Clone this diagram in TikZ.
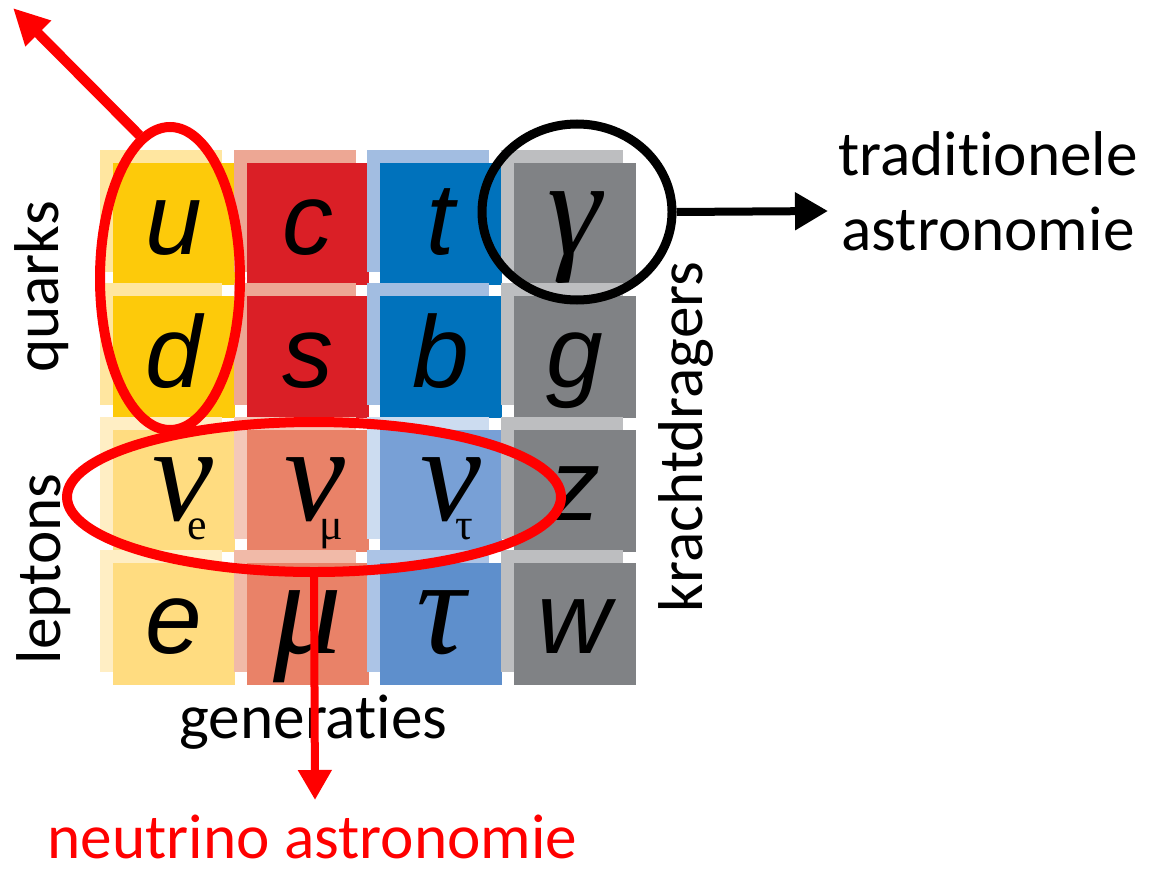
\documentclass[tikz,border=0pt]{standalone}
\usepackage{fontspec}
\setmainfont{Carlito}[Ligatures=NoCommon]
\newfontfamily\cellsans{Liberation Sans}
\newfontfamily\cellserif{Liberation Serif}
\usetikzlibrary{arrows.meta,shapes.geometric}

\definecolor{qyel}{RGB}{253,202,10}
\definecolor{qyelb}{RGB}{255,230,160}
\definecolor{qred}{RGB}{218,31,38}
\definecolor{qredb}{RGB}{237,167,148}
\definecolor{qblue}{RGB}{0,114,188}
\definecolor{qblueb}{RGB}{162,189,225}
\definecolor{fgray}{RGB}{128,130,133}
\definecolor{fgrayb}{RGB}{189,190,192}
\definecolor{lyel}{RGB}{255,220,128}
\definecolor{lyelb}{RGB}{255,238,196}
\definecolor{lred}{RGB}{233,130,104}
\definecolor{lredb}{RGB}{244,200,185}
\definecolor{lredc}{RGB}{241,186,168}
\definecolor{lblue}{RGB}{120,160,214}
\definecolor{lblueb}{RGB}{204,220,240}
\definecolor{lbluec}{RGB}{94,143,204}
\definecolor{lbluecb}{RGB}{172,196,230}
\definecolor{ringred}{RGB}{255,0,0}

\newcommand{\lat}[1]{{\cellsans\itshape\fontsize{29}{30}\selectfont #1}}
\newcommand{\grk}[1]{{\cellserif\itshape\fontsize{39}{40}\selectfont #1}}
\newcommand{\nusub}[1]{\hspace*{0.12cm}\grk{ν}\kern-0.26cm\raisebox{-0.19cm}{\cellserif\fontsize{12.5}{13}\selectfont #1}}

\begin{document}
\begin{tikzpicture}[>=Latex,
  cell/.style={minimum size=1.22cm, inner sep=0pt, text height=0.6cm, text depth=0cm},
  ring/.style={ellipse, draw, line width=0.1cm, inner sep=0pt},
  lbl/.style={font=\fontsize{18}{21.3}\selectfont, inner sep=0pt}]
  \useasboundingbox (0,0) rectangle (11.53,-8.69);

  % Particle grid
  \foreach \c/\r/\main/\back/\sym in {
    1/1/qyel/qyelb/\lat{u}, 2/1/qred/qredb/\lat{c}, 3/1/qblue/qblueb/\lat{t}, 4/1/fgray/fgrayb/\grk{γ},
    1/2/qyel/qyelb/\lat{d}, 2/2/qred/qredb/\lat{s}, 3/2/qblue/qblueb/\lat{b}, 4/2/fgray/fgrayb/\lat{g},
    1/3/lyel/lyelb/\nusub{e}, 2/3/lred/lredb/\nusub{μ}, 3/3/lblue/lblueb/\nusub{τ}, 4/3/fgray/fgrayb/\lat{z},
    1/4/lyel/lyelb/\lat{e}, 2/4/lred/lredc/\grk{μ}, 3/4/lbluec/lbluecb/\grk{τ}, 4/4/fgray/fgrayb/\lat{w}}
  {
    \node[cell, fill=\back] (b\c\r) at ({1.61+1.335*(\c-1)}, {-2.11-1.333*(\r-1)}) {};
    \node[cell, fill=\main] (c\c\r) at ({1.74+1.335*(\c-1)}, {-2.24-1.333*(\r-1)}) {\sym};
  }

  % Labels
  \node[lbl, rotate=90, anchor=base] (quarks) at (0.58,-2.87) {quarks};
  \node[lbl, rotate=90, anchor=base] (leptons) at (0.60,-5.69) {leptons};
  \node[lbl, rotate=90, anchor=base] (kracht) at (7.02,-4.37) {krachtdragers};
  \node[lbl, anchor=base] (gen) at (3.135,-7.38) {generaties};
  \node[lbl, anchor=base, align=center] (trad) at (9.88,-2.50) {traditionele\\astronomie};
  \node[lbl, anchor=base, text=ringred] (neutr) at (3.125,-8.58) {neutrino astronomie};

  % Rings
  \node[ring, draw=ringred, minimum width=1.40cm, minimum height=3.03cm] (quarkring) at (1.70,-2.785) {};
  \node[ring, draw=ringred, minimum width=4.94cm, minimum height=1.50cm] (neutring) at (3.14,-4.97) {};
  \node[ring, draw=black, line width=0.09cm, minimum width=1.90cm, minimum height=1.76cm] (gammaring) at (5.77,-2.12) {};

  % Arrows
  \coordinate (uptip) at (0.13,-0.08);
  \coordinate (tradtip) at (8.28,-2.11);
  \coordinate (neutip) at (3.15,-8.00);
  \draw[ringred, line width=0.1cm, -{Triangle[length=0.36cm, width=0.34cm]}] (quarkring.102) -- (uptip);
  \draw[black, line width=0.08cm, -{Triangle[length=0.33cm, width=0.36cm]}] (gammaring.east) -- (tradtip);
  \draw[ringred, line width=0.08cm, -{Triangle[length=0.30cm, width=0.32cm]}] (neutring.south) -- (neutip);
\end{tikzpicture}
\end{document}
